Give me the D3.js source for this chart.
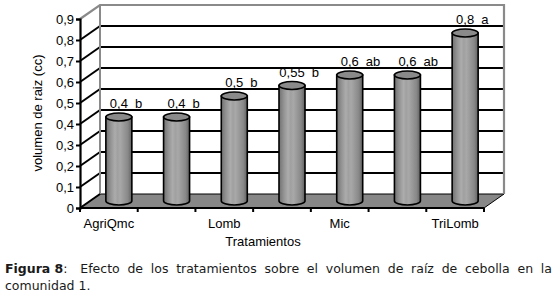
<!DOCTYPE html>
<html><head><meta charset="utf-8">
<script src="https://cdn.jsdelivr.net/npm/d3@7"></script>
<style>
html,body{margin:0;padding:0;background:#fff;}
svg{display:block;}
</style></head>
<body>
<svg id="c" width="560" height="305"></svg>
<script>
// ---- data ----
const categories = ["AgriQmc","T2","Lomb","T4","Mic","T6","TriLomb"];
const xTickLabels = ["AgriQmc","","Lomb","","Mic","","TriLomb"];
const values = [0.4, 0.4, 0.5, 0.55, 0.6, 0.6, 0.8];
const valueLabels = ["0,4","0,4","0,5","0,55","0,6","0,6","0,8"];
const letters = ["b","b","b","b","ab","ab","a"];
const yTicks = [0,0.1,0.2,0.3,0.4,0.5,0.6,0.7,0.8,0.9];
const yTitle = "volumen de raiz (cc)";
const xTitle = "Tratamientos";
const captionBold = "Figura 8";
const captionLine1 = ":  Efecto de los tratamientos sobre el volumen de raíz de cebolla en la";
const captionLine2 = "comunidad 1.";

(function(){
const svg = d3.select("#c");
const loc = d3.formatLocale({decimal:",", thousands:".", grouping:[3], currency:["",""]});
const fmt = loc.format("~g");

const x0 = 80, x1 = 484;
const DX = 20, DY = -14;
const x = d3.scaleBand().domain(categories).range([x0, x1]).padding(0);
const y = d3.scaleLinear().domain([0, 0.9]).range([208, 19]);
const font = "'Liberation Sans', Arial, sans-serif";

// floor
const yZero = y(0);
svg.append("path")
  .attr("d", `M${x0},${yZero} L${x1},${yZero} L${x1+DX},${yZero+DY} L${x0+DX},${yZero+DY} Z`)
  .attr("fill", "#878787").attr("stroke", "#000").attr("stroke-width", 1);

// back wall gridlines
const grid = svg.append("g");
yTicks.filter(t => t > 0 && t < 0.9).forEach(t => {
  grid.append("line").attr("x1", x0+DX).attr("x2", x1+DX)
    .attr("y1", y(t)+DY).attr("y2", y(t)+DY)
    .attr("stroke", "#000").attr("stroke-width", 2.2);
  grid.append("line").attr("x1", x0).attr("x2", x0+DX)
    .attr("y1", y(t)).attr("y2", y(t)+DY)
    .attr("stroke", "#000").attr("stroke-width", 2);
});
// walls border (gray)
const yTop = y(0.9);
svg.append("path")
  .attr("d", `M${x0},${yTop} L${x0+DX},${yTop+DY} L${x1+DX},${yTop+DY} L${x1+DX},${yZero+DY}`)
  .attr("fill", "none").attr("stroke", "#8a8a8a").attr("stroke-width", 2.2);
svg.append("line").attr("x1", x0+DX).attr("x2", x0+DX)
  .attr("y1", yTop+DY).attr("y2", yZero+DY)
  .attr("stroke", "#8a8a8a").attr("stroke-width", 2);
svg.append("line").attr("x1", x0).attr("x2", x0+DX)
  .attr("y1", yZero).attr("y2", yZero+DY)
  .attr("stroke", "#000").attr("stroke-width", 2);

// gradient for cylinders
const defs = svg.append("defs");
const g = defs.append("linearGradient").attr("id","cyl").attr("x1","0").attr("x2","1").attr("y1","0").attr("y2","0");
[[0,"#707070"],[0.18,"#929292"],[0.35,"#acacac"],[0.45,"#a0a0a0"],[0.55,"#a8a8a8"],[0.7,"#989898"],[0.85,"#888888"],[1,"#606060"]]
  .forEach(([o,c]) => g.append("stop").attr("offset", o).attr("stop-color", c));

// bars (cylinders)
const bw = 26, ry = 4;
const bars = svg.append("g");
categories.forEach((c, i) => {
  const bx = x(c) + x.bandwidth()/2 + DX/2;
  const yb = y(0) + DY/2;
  const yt = y(values[i]) + DY/2;
  const l = bx - bw/2, r = bx + bw/2;
  bars.append("path")
    .attr("d", `M${l},${yt} L${l},${yb} A${bw/2},${ry} 0 0 0 ${r},${yb} L${r},${yt} Z`)
    .attr("fill", "url(#cyl)").attr("stroke", "#000").attr("stroke-width", 1.6);
  bars.append("ellipse").attr("cx", bx).attr("cy", yt).attr("rx", bw/2).attr("ry", ry)
    .attr("fill", "#8a8a8a").attr("stroke", "#000").attr("stroke-width", 1.6);
  const t = bars.append("text").attr("x", bx).attr("y", yt - 9)
    .attr("text-anchor", "middle").attr("font-family", font).attr("font-size", 13)
    .attr("fill", "#000").text(valueLabels[i]);
  const w = t.node().getComputedTextLength();
  bars.append("text").attr("x", bx + w/2 + 7).attr("y", yt - 9)
    .attr("font-family", font).attr("font-size", 13).attr("fill", "#000").text(letters[i]);
});

// y axis
const yAxis = d3.axisLeft(y).tickValues(yTicks).tickFormat(fmt).tickSize(4).tickPadding(2);
const ya = svg.append("g").attr("transform", `translate(${x0},0)`).call(yAxis);
ya.select(".domain").attr("stroke", "#000").attr("stroke-width", 2.2);
ya.selectAll(".tick line").attr("stroke", "#000").attr("stroke-width", 2);
ya.selectAll("text").attr("font-family", font).attr("font-size", 13).attr("fill", "#000").attr("dy", "0.36em");

// x axis
const xa = svg.append("g").attr("transform", `translate(0,${yZero})`);
xa.append("line").attr("x1", x0).attr("x2", x1).attr("y1", 0).attr("y2", 0)
  .attr("stroke", "#000").attr("stroke-width", 2.2);
const bounds = categories.map(c => x(c)).concat([x1]);
bounds.forEach(b => xa.append("line").attr("x1", b).attr("x2", b).attr("y1", 0).attr("y2", 4)
  .attr("stroke", "#000").attr("stroke-width", 2));
const xAxis = d3.axisBottom(x).tickSize(0).tickPadding(0).tickFormat((d, i) => xTickLabels[i]);
const xl = svg.append("g").attr("transform", `translate(0,${yZero})`).call(xAxis);
xl.select(".domain").remove();
xl.selectAll("text").attr("font-family", font).attr("font-size", 13).attr("fill", "#000")
  .attr("dy", null).attr("y", 20);

// titles
svg.append("text").attr("transform", `translate(42,113) rotate(-90)`)
  .attr("text-anchor", "middle").attr("font-family", font).attr("font-size", 13).attr("fill", "#000")
  .text(yTitle);
svg.append("text").attr("x", 263).attr("y", 246).attr("text-anchor", "middle")
  .attr("font-family", font).attr("font-size", 13).attr("fill", "#000").text(xTitle);

// caption (line 1 justified)
const cf = "'DejaVu Sans', Verdana, sans-serif";
const cap = svg.append("g").attr("font-family", cf).attr("font-size", 12.5).attr("fill", "#1a1a1a");
const words = captionLine1.trim().split(/\s+/);
const left = 5, right = 552, base1 = 273;
const tokens = [];
const first = cap.append("text").attr("x", left).attr("y", base1);
first.append("tspan").attr("font-weight", "bold").text(captionBold);
first.append("tspan").text(words[0]);
tokens.push(first);
words.slice(1).forEach(w => tokens.push(cap.append("text").attr("y", base1).text(w)));
const widths = tokens.map(t => t.node().getComputedTextLength());
widths[0] += 5; // double space after the colon
const totalW = d3.sum(widths);
const gap = (right - left - totalW) / (tokens.length - 1);
let px = left;
tokens.forEach((t, i) => { t.attr("x", px); px += widths[i] + gap; });
cap.append("text").attr("x", left).attr("y", 290).text(captionLine2);
})();
</script>
</body></html>
